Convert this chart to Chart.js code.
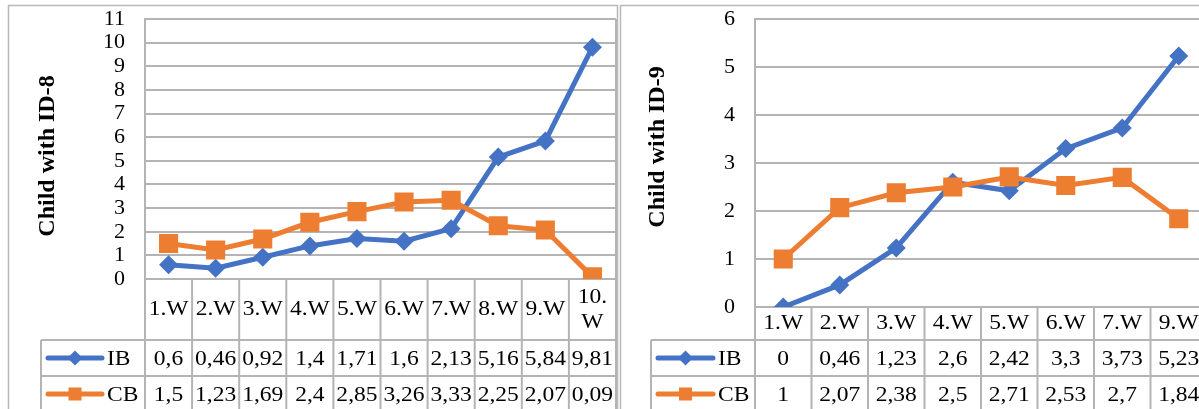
<!DOCTYPE html>
<html>
<head>
<meta charset="utf-8">
<script src="https://cdn.jsdelivr.net/npm/chart.js@4.4.1/dist/chart.umd.min.js"></script>
<style>
html,body{margin:0;padding:0;background:#fff;overflow:hidden;width:1199px;height:409px;}
canvas{position:absolute;top:0;}
#c1{left:0;}
#c2{left:619px;}
</style>
</head>
<body>
<canvas id="c1" width="619" height="409"></canvas>
<canvas id="c2" width="600" height="409"></canvas>
<script>
// ---- data ----
const weeksA = ['1.W','2.W','3.W','4.W','5.W','6.W','7.W','8.W','9.W','10.W'];
const ibA    = [0.6, 0.46, 0.92, 1.4, 1.71, 1.6, 2.13, 5.16, 5.84, 9.81];
const cbA    = [1.5, 1.23, 1.69, 2.4, 2.85, 3.26, 3.33, 2.25, 2.07, 0.09];
const yMaxA  = 11;
const titleA = 'Child with ID-8';

const weeksB = ['1.W','2.W','3.W','4.W','5.W','6.W','7.W','9.W'];
const ibB    = [0, 0.46, 1.23, 2.6, 2.42, 3.3, 3.73, 5.23];
const cbB    = [1, 2.07, 2.38, 2.5, 2.71, 2.53, 2.7, 1.84];
const yMaxB  = 6;
const titleB = 'Child with ID-9';

const seriesNames = ['IB', 'CB'];

// ---- styles ----
const BLUE = '#4472C4', ORANGE = '#ED7D31', GRID = '#b4b4b4', FRAME = '#b8b8b8';
const FONT = '"Liberation Serif","Times New Roman",serif';
const SX = 1.12; // horizontal stretch of the data-table text

function fmt(v){ return String(v).replace('.', ','); }

function sText(ctx, txt, x, y, align){
  ctx.save();
  ctx.translate(x, y);
  ctx.scale(SX, 1);
  ctx.textAlign = align;
  ctx.textBaseline = 'middle';
  ctx.fillText(txt, 0, 0);
  ctx.restore();
}

function marker(ctx, style, x, y, r, color){
  ctx.save();
  ctx.fillStyle = color;
  ctx.beginPath();
  if (style === 'rectRot'){
    ctx.moveTo(x - r, y); ctx.lineTo(x, y - r); ctx.lineTo(x + r, y); ctx.lineTo(x, y + r);
  } else {
    ctx.rect(x - r, y - r, 2 * r, 2 * r);
  }
  ctx.closePath();
  ctx.fill();
  ctx.restore();
}

function tablePlugin(geo){
  return {
    id: 'excelTable',
    afterDraw(chart){
      const ctx = chart.ctx, xs = chart.scales.x, a = chart.chartArea;
      const labels = chart.data.labels, n = labels.length;
      const b = [];
      for (let i = 0; i <= n; i++){
        if (i === 0) b.push(a.left);
        else if (i === n) b.push(a.right);
        else b.push((xs.getPixelForValue(i - 1) + xs.getPixelForValue(i)) / 2);
      }
      const catBottom = a.bottom + geo.catH;
      const r1 = catBottom + geo.rowH, r2 = r1 + geo.rowH;

      ctx.save();
      // outer frame
      ctx.strokeStyle = FRAME; ctx.lineWidth = 1.5;
      ctx.strokeRect(geo.frame[0], geo.frame[1], geo.frame[2] - geo.frame[0], geo.frame[3] - geo.frame[1]);

      // table lines
      ctx.strokeStyle = GRID; ctx.lineWidth = 2;
      ctx.beginPath();
      ctx.moveTo(a.right, a.top); ctx.lineTo(a.right, a.bottom);
      for (let i = 0; i <= n; i++){ ctx.moveTo(b[i], a.bottom); ctx.lineTo(b[i], r2); }
      ctx.moveTo(geo.legendLeft, catBottom); ctx.lineTo(a.right, catBottom);
      ctx.moveTo(geo.legendLeft, r1); ctx.lineTo(a.right, r1);
      ctx.moveTo(geo.legendLeft, r2); ctx.lineTo(a.right, r2);
      ctx.moveTo(geo.legendLeft, catBottom); ctx.lineTo(geo.legendLeft, r2);
      ctx.stroke();

      // category labels
      ctx.fillStyle = '#000';
      ctx.font = geo.tableFont + 'px ' + FONT;
      const cy = (a.bottom + catBottom) / 2;
      for (let i = 0; i < n; i++){
        const cx = (b[i] + b[i + 1]) / 2;
        const t = labels[i];
        const w = ctx.measureText(t).width * SX;
        if (w > b[i + 1] - b[i] - 3 && t.indexOf('.') >= 0){
          const k = t.indexOf('.') + 1;
          sText(ctx, t.slice(0, k), cx, cy - 12, 'center');
          sText(ctx, t.slice(k), cx, cy + 13, 'center');
        } else {
          sText(ctx, t, cx, cy, 'center');
        }
      }

      // data rows
      const rowsY = [(catBottom + r1) / 2, (r1 + r2) / 2];
      chart.data.datasets.forEach((ds, di) => {
        const y = rowsY[di];
        for (let i = 0; i < n; i++){
          sText(ctx, fmt(ds.data[i]), (b[i] + b[i + 1]) / 2, y + 1, 'center');
        }
        // legend key
        ctx.strokeStyle = ds.borderColor; ctx.lineWidth = 5; ctx.lineCap = 'round';
        ctx.beginPath(); ctx.moveTo(geo.keyX[0], y); ctx.lineTo(geo.keyX[1], y); ctx.stroke();
        marker(ctx, ds.pointStyle, (geo.keyX[0] + geo.keyX[1]) / 2, y, ds.pointStyle === 'rectRot' ? 7.5 : 6.5, ds.borderColor);
        ctx.fillStyle = '#000';
        sText(ctx, ds.label, geo.keyX[1] + 5, y + 1, 'left');
      });

      // y axis title
      ctx.save();
      ctx.translate(geo.title[0], geo.title[1]);
      ctx.rotate(-Math.PI / 2);
      ctx.font = 'bold 24px ' + FONT;
      ctx.fillStyle = '#000';
      ctx.textAlign = 'center'; ctx.textBaseline = 'middle';
      ctx.fillText(geo.titleText, 0, 0);
      ctx.restore();

      ctx.restore();
    }
  };
}

function build(id, labels, ib, cb, yMax, geo){
  return new Chart(document.getElementById(id), {
    type: 'line',
    data: {
      labels: labels,
      datasets: [
        { label: seriesNames[0], data: ib, borderColor: BLUE, backgroundColor: BLUE,
          pointStyle: 'rectRot', pointRadius: 9.5, pointHoverRadius: 9.5, pointBorderWidth: 0,
          borderWidth: 5, tension: 0, order: 2 },
        { label: seriesNames[1], data: cb, borderColor: ORANGE, backgroundColor: ORANGE,
          pointStyle: 'rect', pointRadius: 13.5, pointHoverRadius: 13.5, pointBorderWidth: 0,
          borderWidth: 5, tension: 0, order: 1 }
      ]
    },
    options: {
      responsive: false, animation: false, events: [],
      layout: { autoPadding: false, padding: { left: 0, top: geo.plotTop, right: geo.canvasW - geo.plotRight, bottom: 409 - geo.plotBottom } },
      plugins: { legend: { display: false }, tooltip: { enabled: false } },
      scales: {
        x: { type: 'category', display: false, offset: true },
        y: {
          min: 0, max: yMax,
          afterFit(s){ s.width = geo.plotLeft; s.paddingTop = 0; s.paddingBottom = 0; },
          ticks: { stepSize: 1, autoSkip: false, color: '#000', font: { family: FONT, size: 22 }, padding: 20 },
          grid: { color: GRID, lineWidth: 2, drawTicks: false },
          border: { display: true, color: GRID, width: 2 }
        }
      }
    },
    plugins: [tablePlugin(geo)]
  });
}

build('c1', weeksA, ibA, cbA, yMaxA, {
  canvasW: 619, plotLeft: 145, plotRight: 616, plotTop: 19, plotBottom: 279,
  catH: 61, rowH: 36, legendLeft: 41, keyX: [48, 102], tableFont: 21,
  frame: [8.5, 5.5, 617.5, 430], title: [48, 156], titleText: titleA
});
build('c2', weeksB, ibB, cbB, yMaxB, {
  canvasW: 600, plotLeft: 136, plotRight: 588, plotTop: 19, plotBottom: 307,
  catH: 33, rowH: 36, legendLeft: 32, keyX: [39, 94], tableFont: 21,
  frame: [1.5, 5.5, 640, 430], title: [39, 147], titleText: titleB
});
</script>
</body>
</html>
